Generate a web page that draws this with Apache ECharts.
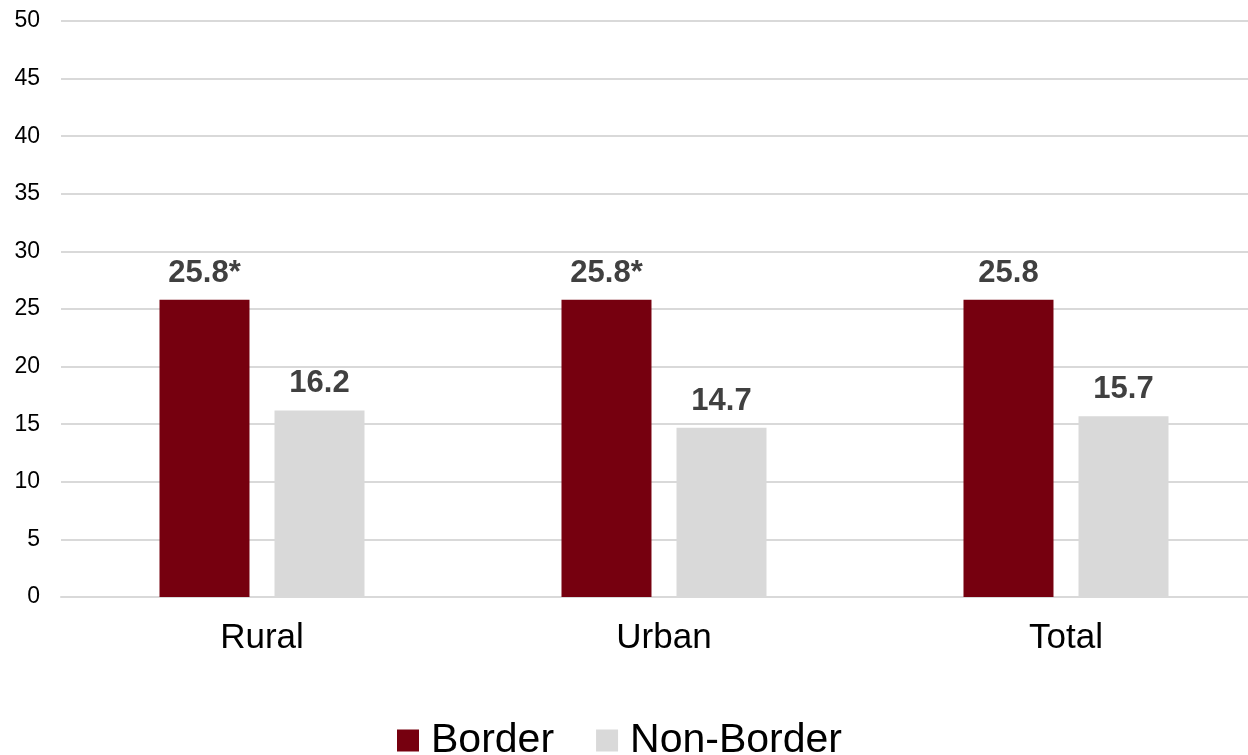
<!DOCTYPE html>
<html>
<head>
<meta charset="utf-8">
<script src="https://cdn.jsdelivr.net/npm/echarts@6/dist/echarts.min.js"></script>
<style>
  html, body { margin: 0; padding: 0; background: #ffffff; overflow: hidden; }
  /* canvas is a little wider than the page so the last category slot runs off the right edge */
  #chart { width: 1267px; height: 755px; }
</style>
</head>
<body>
<div id="chart"></div>
<script>
// Categories and series values
const categories = ['Rural', 'Urban', 'Total'];
const borderValues = [25.8, 25.8, 25.8];
const nonBorderValues = [16.2, 14.7, 15.7];
// Significance markers appended to the Border value labels
const borderMarks = ['*', '*', ''];
const seriesNames = ['Border', 'Non-Border'];

const FONT = '"Liberation Sans", Arial, sans-serif';
const chart = echarts.init(document.getElementById('chart'));

const valueLabel = {
  show: true,
  position: 'top',
  distance: 11,
  color: '#404040',
  fontFamily: FONT,
  fontWeight: 'bold',
  fontSize: 31
};

chart.setOption({
  animation: false,
  backgroundColor: '#ffffff',
  grid: { left: 61, top: 21, right: 0, bottom: 158, containLabel: false },
  legend: {
    data: seriesNames,
    left: 392,
    top: 715,
    icon: 'rect',
    itemWidth: 22,
    itemHeight: 22,
    itemGap: 42,
    textStyle: {
      fontFamily: FONT,
      fontSize: 41,
      color: '#000000',
      padding: [0, 0, 0, 7]
    }
  },
  xAxis: {
    type: 'category',
    data: categories,
    axisTick: { show: false },
    axisLine: { lineStyle: { color: '#d9d9d9', width: 2 } },
    axisLabel: {
      fontFamily: FONT,
      fontSize: 35,
      color: '#000000',
      margin: 24
    }
  },
  yAxis: {
    type: 'value',
    min: 0,
    max: 50,
    interval: 5,
    axisLine: { show: false },
    axisTick: { show: false },
    splitLine: { lineStyle: { color: '#d9d9d9', width: 2 } },
    axisLabel: {
      fontFamily: FONT,
      fontSize: 23,
      color: '#000000',
      margin: 21
    }
  },
  series: [
    {
      name: seriesNames[0],
      type: 'bar',
      data: borderValues,
      barWidth: 90,
      barGap: '27.8%',
      itemStyle: { color: '#76000f' },
      label: Object.assign({}, valueLabel, {
        formatter: p => p.value.toFixed(1) + borderMarks[p.dataIndex]
      })
    },
    {
      name: seriesNames[1],
      type: 'bar',
      data: nonBorderValues,
      barWidth: 90,
      barGap: '27.8%',
      itemStyle: { color: '#d9d9d9' },
      label: Object.assign({}, valueLabel, {
        formatter: p => p.value.toFixed(1)
      })
    }
  ]
});
</script>
</body>
</html>
